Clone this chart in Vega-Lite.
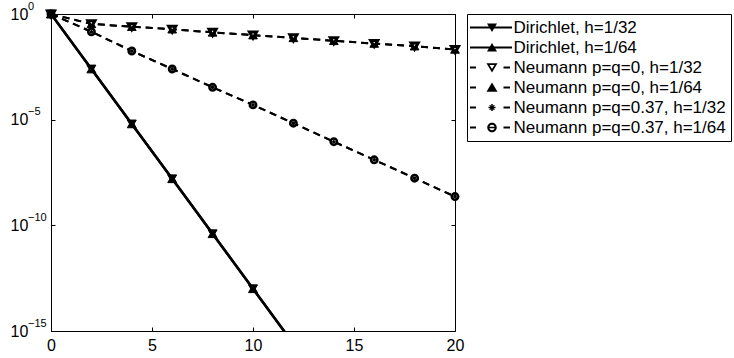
{
  "$schema": "https://vega.github.io/schema/vega-lite/v6.json",
  "width": 404,
  "height": 317,
  "autosize": {"type": "none"},
  "padding": {"left": 51, "top": 14, "right": 279, "bottom": 27},
  "background": "white",
  "config": {
    "font": "Liberation Sans",
    "view": {"stroke": null},
    "axis": {
      "domainColor": "black", "domainWidth": 1, "tickColor": "black", "tickSize": -4, "tickWidth": 1,
      "labelColor": "black", "labelFont": "Liberation Sans", "labelFontSize": 16, "grid": false,
      "title": null, "labelOverlap": false, "labelFlush": false, "labelBound": false
    }
  },
  "data": {"values": [
    {"s": "Dirichlet, h=1/32", "x": 0, "y": 1},
    {"s": "Dirichlet, h=1/32", "x": 2, "y": 2.5e-3},
    {"s": "Dirichlet, h=1/32", "x": 4, "y": 6.3e-6},
    {"s": "Dirichlet, h=1/32", "x": 6, "y": 1.6e-8},
    {"s": "Dirichlet, h=1/32", "x": 8, "y": 4e-11},
    {"s": "Dirichlet, h=1/32", "x": 10, "y": 1e-13},
    {"s": "Dirichlet, h=1/32", "x": 12, "y": 2.5e-16},
    {"s": "Dirichlet, h=1/64", "x": 0, "y": 1},
    {"s": "Dirichlet, h=1/64", "x": 2, "y": 2.5e-3},
    {"s": "Dirichlet, h=1/64", "x": 4, "y": 6.3e-6},
    {"s": "Dirichlet, h=1/64", "x": 6, "y": 1.6e-8},
    {"s": "Dirichlet, h=1/64", "x": 8, "y": 4e-11},
    {"s": "Dirichlet, h=1/64", "x": 10, "y": 1e-13},
    {"s": "Dirichlet, h=1/64", "x": 12, "y": 2.5e-16},
    {"s": "Neumann p=q=0, h=1/32", "x": 0, "y": 1},
    {"s": "Neumann p=q=0, h=1/32", "x": 2, "y": 0.34},
    {"s": "Neumann p=q=0, h=1/32", "x": 4, "y": 0.25},
    {"s": "Neumann p=q=0, h=1/32", "x": 6, "y": 0.19},
    {"s": "Neumann p=q=0, h=1/32", "x": 8, "y": 0.135},
    {"s": "Neumann p=q=0, h=1/32", "x": 10, "y": 0.1},
    {"s": "Neumann p=q=0, h=1/32", "x": 12, "y": 0.074},
    {"s": "Neumann p=q=0, h=1/32", "x": 14, "y": 0.054},
    {"s": "Neumann p=q=0, h=1/32", "x": 16, "y": 0.04},
    {"s": "Neumann p=q=0, h=1/32", "x": 18, "y": 0.03},
    {"s": "Neumann p=q=0, h=1/32", "x": 20, "y": 0.021},
    {"s": "Neumann p=q=0, h=1/64", "x": 0, "y": 1},
    {"s": "Neumann p=q=0, h=1/64", "x": 2, "y": 0.34},
    {"s": "Neumann p=q=0, h=1/64", "x": 4, "y": 0.25},
    {"s": "Neumann p=q=0, h=1/64", "x": 6, "y": 0.19},
    {"s": "Neumann p=q=0, h=1/64", "x": 8, "y": 0.135},
    {"s": "Neumann p=q=0, h=1/64", "x": 10, "y": 0.1},
    {"s": "Neumann p=q=0, h=1/64", "x": 12, "y": 0.074},
    {"s": "Neumann p=q=0, h=1/64", "x": 14, "y": 0.054},
    {"s": "Neumann p=q=0, h=1/64", "x": 16, "y": 0.04},
    {"s": "Neumann p=q=0, h=1/64", "x": 18, "y": 0.03},
    {"s": "Neumann p=q=0, h=1/64", "x": 20, "y": 0.021},
    {"s": "Neumann p=q=0.37, h=1/32", "x": 0, "y": 1},
    {"s": "Neumann p=q=0.37, h=1/32", "x": 2, "y": 0.145},
    {"s": "Neumann p=q=0.37, h=1/32", "x": 4, "y": 0.0178},
    {"s": "Neumann p=q=0.37, h=1/32", "x": 6, "y": 2.5e-3},
    {"s": "Neumann p=q=0.37, h=1/32", "x": 8, "y": 3.4e-4},
    {"s": "Neumann p=q=0.37, h=1/32", "x": 10, "y": 5e-5},
    {"s": "Neumann p=q=0.37, h=1/32", "x": 12, "y": 6.8e-6},
    {"s": "Neumann p=q=0.37, h=1/32", "x": 14, "y": 9.1e-7},
    {"s": "Neumann p=q=0.37, h=1/32", "x": 16, "y": 1.26e-7},
    {"s": "Neumann p=q=0.37, h=1/32", "x": 18, "y": 1.7e-8},
    {"s": "Neumann p=q=0.37, h=1/32", "x": 20, "y": 2.3e-9},
    {"s": "Neumann p=q=0.37, h=1/64", "x": 0, "y": 1},
    {"s": "Neumann p=q=0.37, h=1/64", "x": 2, "y": 0.145},
    {"s": "Neumann p=q=0.37, h=1/64", "x": 4, "y": 0.0178},
    {"s": "Neumann p=q=0.37, h=1/64", "x": 6, "y": 2.5e-3},
    {"s": "Neumann p=q=0.37, h=1/64", "x": 8, "y": 3.4e-4},
    {"s": "Neumann p=q=0.37, h=1/64", "x": 10, "y": 5e-5},
    {"s": "Neumann p=q=0.37, h=1/64", "x": 12, "y": 6.8e-6},
    {"s": "Neumann p=q=0.37, h=1/64", "x": 14, "y": 9.1e-7},
    {"s": "Neumann p=q=0.37, h=1/64", "x": 16, "y": 1.26e-7},
    {"s": "Neumann p=q=0.37, h=1/64", "x": 18, "y": 1.7e-8},
    {"s": "Neumann p=q=0.37, h=1/64", "x": 20, "y": 2.3e-9}
  ]},
  "layer": [
    {
      "transform": [{"filter": "indexof(datum.s, 'Dirichlet') == 0"}],
      "mark": {"type": "line", "color": "black", "strokeWidth": 2.5, "clip": true},
      "encoding": {
        "x": {"field": "x", "type": "quantitative", "scale": {"domain": [0, 20], "nice": false, "zero": false},
              "axis": {"orient": "bottom", "values": [0, 5, 10, 15, 20], "labelPadding": 10}},
        "y": {"field": "y", "type": "quantitative", "scale": {"type": "log", "domain": [1e-15, 1], "nice": false},
              "axis": {"orient": "left", "values": [1e-15, 1e-10, 1e-5, 1], "labelAlign": "left", "labelBaseline": "middle", "labelPadding": 45,
                       "labelExpr": "'10'"}},
        "detail": {"field": "s"}
      }
    },
    {
      "transform": [{"filter": "indexof(datum.s, 'Neumann') == 0"}],
      "mark": {"type": "line", "color": "black", "strokeWidth": 2, "strokeDash": [7, 5], "clip": true},
      "encoding": {
        "x": {"field": "x", "type": "quantitative", "scale": {"domain": [0, 20], "nice": false, "zero": false}, "axis": null},
        "y": {"field": "y", "type": "quantitative", "scale": {"type": "log", "domain": [1e-15, 1], "nice": false}, "axis": null},
        "detail": {"field": "s"}
      }
    },
    {
      "transform": [{"filter": "datum.s == 'Neumann p=q=0.37, h=1/64'"}],
      "mark": {"type": "point", "shape": "circle", "size": 40, "fill": "white", "stroke": "black", "strokeWidth": 2.6, "opacity": 1},
      "encoding": {
        "x": {"field": "x", "type": "quantitative", "scale": {"domain": [0, 20], "nice": false, "zero": false}, "axis": null},
        "y": {"field": "y", "type": "quantitative", "scale": {"type": "log", "domain": [1e-15, 1], "nice": false}, "axis": null}
      }
    },
    {
      "transform": [{"filter": "datum.s == 'Neumann p=q=0.37, h=1/32'"}],
      "mark": {"type": "point", "shape": "M-1,0H1M0,-1V1M-0.7,-0.7L0.7,0.7M-0.7,0.7L0.7,-0.7", "size": 12, "fill": null, "stroke": "black", "strokeWidth": 1.5, "opacity": 1},
      "encoding": {
        "x": {"field": "x", "type": "quantitative", "scale": {"domain": [0, 20], "nice": false, "zero": false}, "axis": null},
        "y": {"field": "y", "type": "quantitative", "scale": {"type": "log", "domain": [1e-15, 1], "nice": false}, "axis": null}
      }
    },
    {
      "transform": [{"filter": "datum.s == 'Neumann p=q=0, h=1/64'"}],
      "mark": {"type": "point", "shape": "triangle-up", "size": 75, "fill": "black", "stroke": "black", "strokeWidth": 1, "opacity": 1},
      "encoding": {
        "x": {"field": "x", "type": "quantitative", "scale": {"domain": [0, 20], "nice": false, "zero": false}, "axis": null},
        "y": {"field": "y", "type": "quantitative", "scale": {"type": "log", "domain": [1e-15, 1], "nice": false}, "axis": null}
      }
    },
    {
      "transform": [{"filter": "datum.s == 'Neumann p=q=0, h=1/32'"}],
      "mark": {"type": "point", "shape": "triangle-down", "size": 50, "fill": "white", "stroke": "black", "strokeWidth": 3, "opacity": 1},
      "encoding": {
        "x": {"field": "x", "type": "quantitative", "scale": {"domain": [0, 20], "nice": false, "zero": false}, "axis": null},
        "y": {"field": "y", "type": "quantitative", "scale": {"type": "log", "domain": [1e-15, 1], "nice": false}, "axis": null}
      }
    },
    {
      "transform": [{"filter": "datum.s == 'Dirichlet, h=1/32' && datum.y >= 1e-15"}],
      "mark": {"type": "point", "shape": "triangle-down", "size": 80, "fill": "black", "stroke": "black", "strokeWidth": 1, "opacity": 1},
      "encoding": {
        "x": {"field": "x", "type": "quantitative", "scale": {"domain": [0, 20], "nice": false, "zero": false}, "axis": null},
        "y": {"field": "y", "type": "quantitative", "scale": {"type": "log", "domain": [1e-15, 1], "nice": false}, "axis": null}
      }
    },
    {
      "transform": [{"filter": "datum.s == 'Dirichlet, h=1/64' && datum.y >= 1e-15"}],
      "mark": {"type": "point", "shape": "triangle-up", "size": 80, "fill": "black", "stroke": "black", "strokeWidth": 1, "opacity": 1},
      "encoding": {
        "x": {"field": "x", "type": "quantitative", "scale": {"domain": [0, 20], "nice": false, "zero": false}, "axis": null},
        "y": {"field": "y", "type": "quantitative", "scale": {"type": "log", "domain": [1e-15, 1], "nice": false}, "axis": null}
      }
    },
    {
      "data": {"values": [
        {"v": 1, "e": "0"},
        {"v": 1e-5, "e": "−5"},
        {"v": 1e-10, "e": "−10"},
        {"v": 1e-15, "e": "−15"}
      ]},
      "mark": {"type": "text", "align": "left", "baseline": "middle", "dx": -23, "dy": -7.5, "fontSize": 11, "font": "Liberation Sans", "color": "black"},
      "encoding": {
        "x": {"datum": 0, "type": "quantitative", "scale": {"domain": [0, 20], "nice": false, "zero": false}, "axis": null},
        "y": {"field": "v", "type": "quantitative", "scale": {"type": "log", "domain": [1e-15, 1], "nice": false}, "axis": null},
        "text": {"field": "e"}
      }
    },
    {
      "transform": [{"filter": "datum.x > 100"}],
      "mark": {"type": "point", "filled": true, "fill": "black", "opacity": 1},
      "encoding": {
        "x": {"field": "x", "type": "quantitative", "scale": {"domain": [0, 20], "nice": false, "zero": false},
              "axis": {"orient": "top", "values": [0, 5, 10, 15, 20], "labels": false}},
        "y": {"field": "y", "type": "quantitative", "scale": {"type": "log", "domain": [1e-15, 1], "nice": false},
              "axis": {"orient": "right", "values": [1e-15, 1e-10, 1e-5, 1], "labels": false}},
        "shape": {
          "field": "s", "type": "nominal",
          "scale": {
            "domain": ["Dirichlet, h=1/32", "Dirichlet, h=1/64", "Neumann p=q=0, h=1/32", "Neumann p=q=0, h=1/64", "Neumann p=q=0.37, h=1/32", "Neumann p=q=0.37, h=1/64"],
            "range": [
              "M-4.4,-0.2H4V0.2H-4.4ZM-1,-0.8L1,-0.8L0,0.9Z",
              "M-4.4,-0.2H4V0.2H-4.4ZM-1,0.8L0,-0.9L1,0.8Z",
              "M-4.4,-0.2H-3.2V0.2H-4.4ZM2.3,-0.2H3.6V0.2H2.3ZM-1.1,-0.85L1.1,-0.85L0,1ZM0,0.3L0.5,-0.5L-0.5,-0.5Z",
              "M-4.4,-0.2H-3.2V0.2H-4.4ZM2.3,-0.2H3.6V0.2H2.3ZM-1.1,0.85L0,-1L1.1,0.85Z",
              "M-4.4,-0.2H-3.2V0.2H-4.4ZM2.3,-0.2H3.6V0.2H2.3ZM-0.7,-0.15H0.7V0.15H-0.7ZM-0.15,-0.7H0.15V0.7H-0.15ZM-0.55,-0.4L-0.4,-0.55L0.55,0.4L0.4,0.55ZM0.4,-0.55L0.55,-0.4L-0.4,0.55L-0.55,0.4Z",
              "M-4.4,-0.2H-3.2V0.2H-4.4ZM2.3,-0.2H3.6V0.2H2.3ZM0.95,0A0.95,0.95,0,1,1,-0.95,0A0.95,0.95,0,1,1,0.95,0ZM0.55,0A0.55,0.55,0,1,0,-0.55,0A0.55,0.55,0,1,0,0.55,0ZM-0.6,-0.15H0.6V0.15H-0.6Z"
            ]
          },
          "legend": {
            "orient": "none", "legendX": 416, "legendY": 0, "title": null,
            "strokeColor": "black", "fillColor": "white", "padding": 5,
            "labelFont": "Liberation Sans", "labelFontSize": 17, "labelColor": "black", "labelLimit": 400,
            "symbolSize": 100, "symbolStrokeWidth": 0, "symbolFillColor": "black", "symbolStrokeColor": "black",
            "symbolOpacity": 1, "symbolOffset": 11.5, "labelOffset": 13, "rowPadding": 2
          }
        }
      }
    }
  ],
  "resolve": {"axis": {"x": "independent", "y": "independent"}}
}
